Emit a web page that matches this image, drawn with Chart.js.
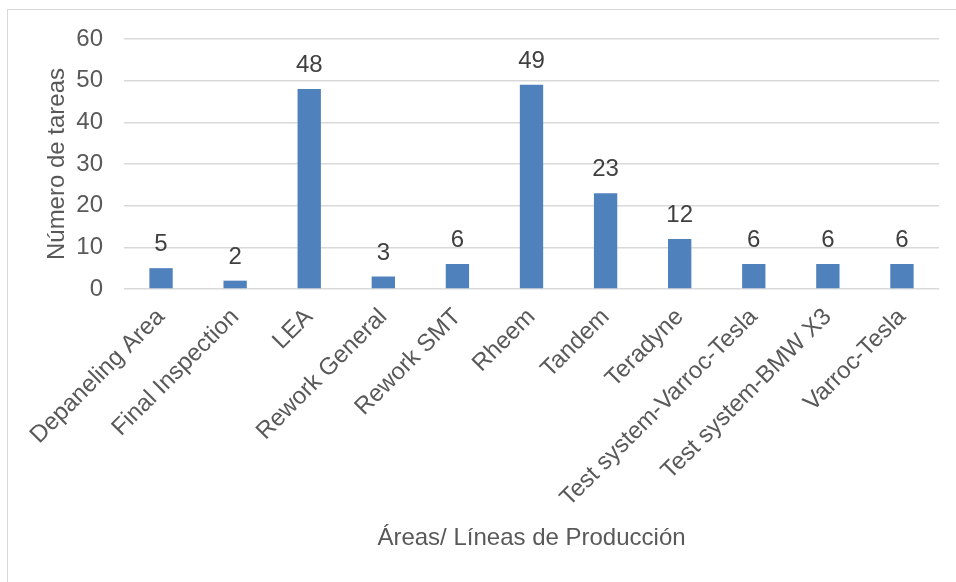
<!DOCTYPE html>
<html>
<head>
<meta charset="utf-8">
<script src="https://cdn.jsdelivr.net/npm/chart.js@4"></script>
<style>
  html, body { margin: 0; padding: 0; background: #fff; overflow: hidden; }
  #wrap { position: relative; width: 956px; height: 582px; }
  #frame { position: absolute; left: 7px; top: 9px; width: 1000px; height: 1000px; border: 1.5px solid #d9d9d9; }
  #chart { position: absolute; left: 0; top: 0; }
</style>
</head>
<body>
<div id="wrap">
  <div id="frame"></div>
  <canvas id="chart" width="956" height="582"></canvas>
</div>
<script>
const areas = [
  'Depaneling Area', 'Final Inspection', 'LEA', 'Rework General', 'Rework SMT',
  'Rheem', 'Tandem', 'Teradyne', 'Test system-Varroc-Tesla', 'Test system-BMW X3', 'Varroc-Tesla'
];
const tareas = [5, 2, 48, 3, 6, 49, 23, 12, 6, 6, 6];

const FONT = '"Liberation Sans", Arial, sans-serif';
const GREY = '#595959';

// value labels above each bar
const barLabels = {
  id: 'barLabels',
  afterDatasetsDraw(chart) {
    const ctx = chart.ctx;
    const meta = chart.getDatasetMeta(0);
    ctx.save();
    ctx.font = '24px ' + FONT;
    ctx.fillStyle = '#404040';
    ctx.textAlign = 'center';
    ctx.textBaseline = 'alphabetic';
    meta.data.forEach((bar, i) => {
      ctx.fillText(String(tareas[i]), bar.x, bar.y - 17);
    });
    ctx.restore();
  }
};

new Chart(document.getElementById('chart'), {
  type: 'bar',
  data: {
    labels: areas,
    datasets: [{
      data: tareas,
      backgroundColor: '#4f81bd',
      barPercentage: 0.315,
      categoryPercentage: 1
    }]
  },
  options: {
    responsive: false,
    animation: false,
    layout: { padding: { left: 39, top: 39, right: 17, bottom: 25 } },
    plugins: { legend: { display: false }, tooltip: { enabled: false } },
    scales: {
      x: {
        grid: { display: false },
        border: { display: false },
        ticks: {
          autoSkip: false, maxRotation: 45, minRotation: 45,
          color: GREY, font: { family: FONT, size: 24 }, padding: 6
        },
        title: {
          display: true, text: 'Áreas/ Líneas de Producción',
          color: GREY, font: { family: FONT, size: 24 }
        },
        afterFit(scale) { scale.height = 268; }
      },
      y: {
        min: 0, max: 60,
        ticks: { stepSize: 10, color: GREY, font: { family: FONT, size: 24 }, padding: 21 },
        grid: { color: '#d9d9d9', lineWidth: 1.5, drawTicks: false },
        border: { display: false },
        title: {
          display: true, text: 'Número de tareas',
          color: GREY, font: { family: FONT, size: 24 }
        },
        afterFit(scale) { scale.width = 85; }
      }
    }
  },
  plugins: [barLabels]
});
</script>
</body>
</html>
